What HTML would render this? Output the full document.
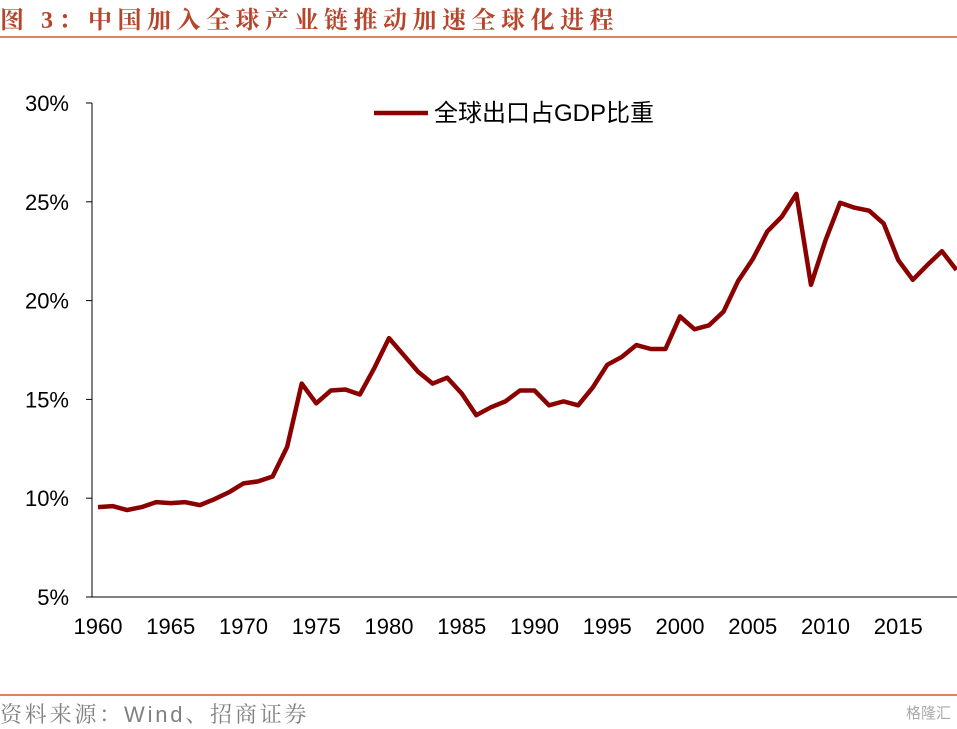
<!DOCTYPE html>
<html><head><meta charset="utf-8"><style>
body{margin:0;background:#fff;width:957px;height:726px;overflow:hidden;position:relative;font-family:"Liberation Sans","Noto Sans CJK SC",sans-serif}
#title{position:absolute;left:0;top:0px;font-family:"Liberation Serif","Noto Serif CJK SC",serif;font-weight:bold;font-size:24px;color:#b5452b;letter-spacing:5.5px;white-space:nowrap}
.rule{position:absolute;left:0;width:957px;height:1.5px;background:#d9865e}
#src{position:absolute;left:0;top:698px;font-size:22px;color:#808080;letter-spacing:2.8px;font-family:"Liberation Sans","Noto Serif CJK SC",sans-serif;white-space:nowrap}
#wm{position:absolute;right:6px;top:702px;font-size:15px;color:#aaa}
</style></head><body>
<div id="title">图 3：中国加入全球产业链推动加速全球化进程</div>
<div class="rule" style="top:36px"></div>
<div class="rule" style="top:694px"></div>
<div id="src">资料来源：Wind、招商证券</div>
<div id="wm">格隆汇</div>
<svg id="chart" width="957" height="726" style="position:absolute;left:0;top:0"></svg>
<script>
const years=[1960,1961,1962,1963,1964,1965,1966,1967,1968,1969,1970,1971,1972,1973,1974,1975,1976,1977,1978,1979,1980,1981,1982,1983,1984,1985,1986,1987,1988,1989,1990,1991,1992,1993,1994,1995,1996,1997,1998,1999,2000,2001,2002,2003,2004,2005,2006,2007,2008,2009,2010,2011,2012,2013,2014,2015,2016,2017,2018,2019];
const exportShare=[9.55,9.6,9.4,9.55,9.8,9.75,9.8,9.65,9.95,10.3,10.75,10.85,11.1,12.6,15.8,14.8,15.45,15.5,15.25,16.6,18.1,17.25,16.4,15.8,16.1,15.3,14.2,14.6,14.9,15.45,15.45,14.7,14.9,14.7,15.6,16.75,17.15,17.75,17.55,17.55,19.2,18.55,18.75,19.45,21.0,22.1,23.5,24.25,25.4,20.8,23.05,24.95,24.7,24.55,23.9,22.05,21.05,21.8,22.5,21.55];
const yTicks=[5,10,15,20,25,30];
const xTicks=[1960,1965,1970,1975,1980,1985,1990,1995,2000,2005,2010,2015];
const NS="http://www.w3.org/2000/svg";
const svg=document.getElementById('chart');
const x=v=>98+(v-1960)*14.55;
const y=v=>597-(v-5)*(494/25);
function mk(t,a,txt){const e=document.createElementNS(NS,t);for(const k in a)e.setAttribute(k,a[k]);if(txt!==undefined)e.textContent=txt;svg.appendChild(e);return e;}
let e=mk('line',{x1:92,y1:103,x2:92,y2:597,stroke:'#000','stroke-width':1});


e=mk('line',{x1:92,y1:597,x2:957,y2:597,stroke:'#000','stroke-width':1});


yTicks.forEach(v=>{
 let t=mk('line',{x1:86,y1:y(v),x2:92,y2:y(v),stroke:'#000'});
 
 
 let l=mk('text',{x:69,y:y(v)+8,'text-anchor':'end','font-size':22,fill:'#000'},v+'%');
 
 
});
xTicks.forEach(v=>{
 let l=mk('text',{x:x(v),y:634,'text-anchor':'middle','font-size':22,fill:'#000'},v);
 
 
});
const p=mk('polyline',{points:years.map((yr,i)=>x(yr)+','+y(exportShare[i])).join(' '),fill:'none',stroke:'#8b0000','stroke-width':4.5,'stroke-linejoin':'round'});


const lg=mk('line',{x1:374,y1:113,x2:428,y2:113,stroke:'#8b0000','stroke-width':4.5});


const lt=mk('text',{x:434,y:121,'font-size':24,fill:'#000'},'全球出口占GDP比重');


</script>
</body></html>
